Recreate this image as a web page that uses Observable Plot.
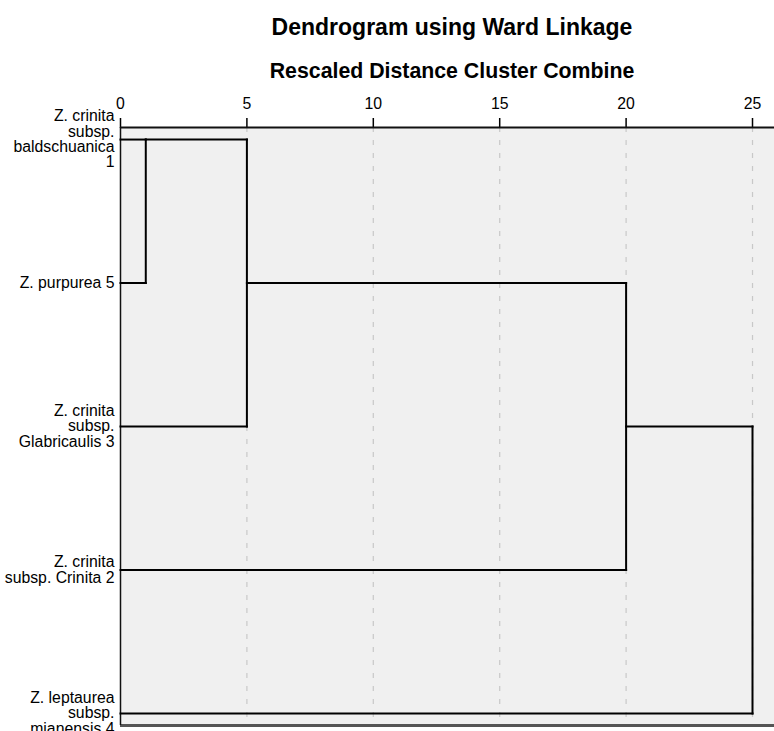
<!DOCTYPE html>
<html>
<head>
<meta charset="utf-8">
<script src="https://cdn.jsdelivr.net/npm/d3@7"></script>
<script src="https://cdn.jsdelivr.net/npm/@observablehq/plot@0.6"></script>
<style>
  html, body { margin: 0; padding: 0; background: white; }
  body { width: 774px; height: 731px; overflow: hidden; font-family: "Liberation Sans", Arial, sans-serif; }
  #head { position: relative; width: 774px; height: 85px; }
  #head div { position: absolute; left: 130px; width: 644px; text-align: center; font-weight: bold; color: #000; white-space: nowrap; }
  #title { top: 15px; font-size: 23px; line-height: 24px; }
  #subtitle { top: 60px; font-size: 21.3px; line-height: 22px; }
  #chart svg { display: block; }
</style>
</head>
<body>
<div id="head">
  <div id="title">Dendrogram using Ward Linkage</div>
  <div id="subtitle">Rescaled Distance Cluster Combine</div>
</div>
<div id="chart"></div>
<script>
// Leaf labels (top to bottom)
const leafLabels = [
  "Z. crinita\nsubsp.\nbaldschuanica\n1",
  "Z. purpurea 5",
  "Z. crinita\nsubsp.\nGlabricaulis 3",
  "Z. crinita\nsubsp. Crinita 2",
  "Z. leptaurea\nsubsp.\nmianensis 4"
];
// Merge steps: cluster ids (leaves 0..4, new clusters 5..), rescaled distance
const mergeA = [0, 5, 6, 7];
const mergeB = [1, 2, 3, 4];
const mergeDist = [1, 5, 20, 25];
const xTicks = [0, 5, 10, 15, 20, 25];
const gridTicks = [5, 10, 15, 20, 25];

// Build dendrogram segments (SPSS style layout)
const nodes = leafLabels.map((l, i) => ({pos: i, h: 0}));
const hSegs = [];
const vSegs = [];
mergeA.forEach((a, k) => {
  const A = nodes[a], B = nodes[mergeB[k]], d = mergeDist[k];
  hSegs.push({x1: A.h, x2: d, y: A.pos});
  hSegs.push({x1: B.h, x2: d, y: B.pos});
  vSegs.push({x: d, y1: A.pos, y2: B.pos});
  nodes.push({pos: Math.floor((A.pos + B.pos) / 2), h: d});
});

const leaves = leafLabels.map((label, i) => ({label, i}));
const yPad = 0.084;
const yLo = -yPad, yHi = leafLabels.length - 1 + yPad;

const chart = Plot.plot({
  width: 774,
  height: 646,
  marginTop: 42,
  marginBottom: 6,
  marginLeft: 120,
  marginRight: 0,
  style: {fontFamily: "'Liberation Sans', Arial, sans-serif", fontSize: "15.5px", background: "white", color: "black"},
  x: {domain: [0, 25.87]},
  y: {domain: [yHi, yLo], axis: null},
  marks: [
    Plot.frame({fill: "#f0f0f0", stroke: null}),
    Plot.ruleX(gridTicks, {y1: yLo, y2: yHi, stroke: "#c8c8c8", strokeWidth: 1.2, strokeDasharray: "5,8"}),
    Plot.axisX(xTicks, {anchor: "top", tickSize: 10, tickPadding: 9, fontSize: 15.8, stroke: "black", strokeWidth: 1.5, fill: "black", label: null, tickFormat: d => String(d)}),
    Plot.ruleY([yLo], {stroke: "#111", strokeWidth: 2}),
    Plot.ruleY([yHi], {stroke: "#555", strokeWidth: 3}),
    Plot.ruleX([0], {y1: yLo, y2: yHi, stroke: "#111", strokeWidth: 1.5}),
    Plot.link(hSegs, {x1: "x1", x2: "x2", y1: "y", y2: "y", stroke: "black", strokeWidth: 2, strokeLinecap: "square"}),
    Plot.link(vSegs, {x1: "x", x2: "x", y1: "y1", y2: "y2", stroke: "black", strokeWidth: 2, strokeLinecap: "square"}),
    Plot.text(leaves, {x: 0, y: "i", text: "label", textAnchor: "end", dx: -6, lineAnchor: "middle", lineHeight: 0.97, fontSize: 15.8, fill: "black"})
  ]
});
document.getElementById("chart").appendChild(chart);
</script>
</body>
</html>
